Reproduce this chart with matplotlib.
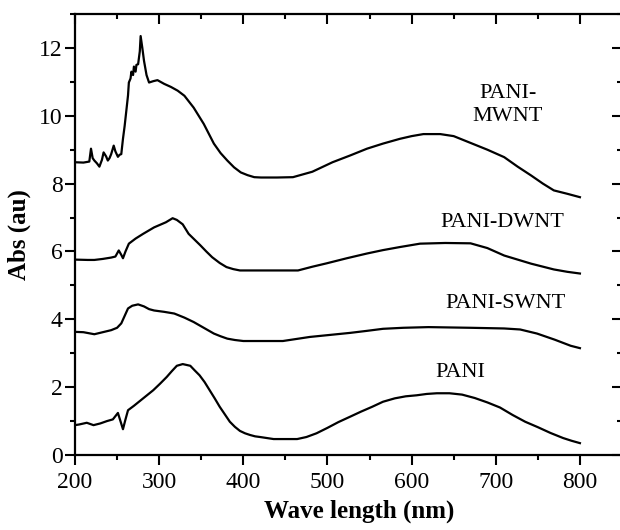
import matplotlib
matplotlib.use("Agg")
import matplotlib.pyplot as plt
from matplotlib.ticker import MultipleLocator, NullFormatter

plt.rcParams['font.family'] = ['Liberation Serif', 'DejaVu Serif']

# PANI
pani_x = [200, 205, 214, 222, 230, 238, 245, 251, 254, 257, 260, 263, 270, 277, 285, 293,
          301, 309, 315, 321, 328, 337, 342, 348, 354, 360, 366, 372, 378, 384, 390, 396,
          402, 408, 414, 420, 428, 436, 450, 464, 475, 487, 500, 513, 527, 540, 553, 566,
          580, 593, 606, 618, 630, 645, 660, 675, 690, 705, 720, 735, 750, 765, 780, 790, 800]
pani_y = [0.88, 0.9, 0.95, 0.88, 0.93, 1.0, 1.05, 1.24, 1.0, 0.76, 1.05, 1.32, 1.45, 1.59, 1.75, 1.91,
          2.1, 2.3, 2.47, 2.63, 2.68, 2.63, 2.5, 2.35, 2.15, 1.91, 1.67, 1.42, 1.2, 0.98, 0.83, 0.71,
          0.64, 0.59, 0.55, 0.53, 0.5, 0.47, 0.47, 0.47, 0.53, 0.64, 0.8, 0.97, 1.13, 1.28, 1.42, 1.57,
          1.67, 1.73, 1.76, 1.8, 1.82, 1.82, 1.78, 1.68, 1.55, 1.4, 1.18, 0.98, 0.82, 0.65, 0.5, 0.42, 0.35]

# PANI-SWNT
swnt_x = [200, 210, 223, 233, 243, 250, 255, 259, 263, 268, 275, 282, 288, 294, 306, 318, 330,
          341, 353, 365, 373, 381, 390, 400, 420, 447, 479, 503, 527, 547, 566, 590, 620, 645,
          670, 690, 710, 729, 749, 770, 789, 800]
swnt_y = [3.63, 3.62, 3.56, 3.62, 3.68, 3.75, 3.88, 4.1, 4.32, 4.4, 4.44, 4.38, 4.3, 4.26, 4.22, 4.17, 4.05,
          3.92, 3.75, 3.58, 3.5, 3.43, 3.39, 3.36, 3.36, 3.36, 3.48, 3.54, 3.6, 3.66, 3.72, 3.75, 3.77, 3.76,
          3.75, 3.74, 3.73, 3.7, 3.58, 3.4, 3.22, 3.15]

# PANI-DWNT
dwnt_x = [200, 215, 223, 233, 243, 248, 252, 255, 257, 260, 264, 272, 281, 294, 308, 316, 321,
          328, 335, 342, 349, 356, 363, 372, 380, 388, 396, 418, 440, 465, 482, 499, 523, 547,
          566, 586, 610, 640, 670, 690, 710, 742, 769, 785, 800]
dwnt_y = [5.76, 5.75, 5.75, 5.78, 5.82, 5.85, 6.03, 5.9, 5.8, 6.0, 6.23, 6.38, 6.52, 6.71, 6.86, 6.98, 6.93,
          6.8, 6.52, 6.35, 6.18, 6.0, 5.83, 5.66, 5.54, 5.48, 5.44, 5.44, 5.44, 5.44, 5.55, 5.65, 5.8, 5.94,
          6.04, 6.13, 6.23, 6.25, 6.24, 6.1, 5.88, 5.64, 5.47, 5.4, 5.35]

# PANI-MWNT
mwnt_x = [200, 210, 217, 219, 221, 223, 226, 229, 232, 234, 237, 239, 241, 243, 246, 248, 251,
          253, 255, 257, 259, 261, 263, 264, 266, 267, 269, 270, 272, 273, 275, 277, 278, 280,
          282, 285, 288, 293, 298, 306, 314, 322, 330, 341, 353, 365, 373, 381, 389, 397, 405,
          413, 421, 440, 459, 482, 506, 527, 547, 566, 586, 600, 614, 634, 650, 670, 690, 710,
          726, 742, 756, 769, 785, 800]
mwnt_y = [8.63, 8.62, 8.65, 9.03, 8.75, 8.68, 8.6, 8.5, 8.7, 8.92, 8.8, 8.68, 8.75, 8.87, 9.12, 8.95, 8.79,
          8.85, 8.87, 9.32, 9.7, 10.15, 10.6, 10.98, 11.1, 11.3, 11.2, 11.45, 11.3, 11.5, 11.52, 11.9, 12.35, 12.0,
          11.62, 11.2, 10.98, 11.02, 11.05, 10.94, 10.85, 10.74, 10.59, 10.24, 9.76, 9.18, 8.9, 8.68, 8.48, 8.33, 8.25,
          8.19, 8.18, 8.18, 8.19, 8.35, 8.63, 8.83, 9.03, 9.18, 9.32, 9.4, 9.46, 9.46, 9.4, 9.2, 9.0, 8.78,
          8.5, 8.24, 8.0, 7.8, 7.7, 7.6]

labels = ['PANI-\nMWNT', 'PANI-DWNT', 'PANI-SWNT', 'PANI']
label_x = [714, 708, 711, 658]
label_y = [10.32, 6.85, 4.47, 2.44]

fig = plt.figure(figsize=(6.2, 5.3), dpi=100)
ax = fig.add_axes([75 / 620, 75 / 530, 547 / 620, 441 / 530])

for xs, ys in [(pani_x, pani_y), (swnt_x, swnt_y), (dwnt_x, dwnt_y), (mwnt_x, mwnt_y)]:
    ax.plot(xs, ys, color='black', lw=1.6)

for t, x, y in zip(labels, label_x, label_y):
    ax.text(x, y, t, ha='center', va='center', fontsize=16, linespacing=1.25)

ax.set_xlim(200, 850)
ax.set_ylim(0, 13)
ax.xaxis.set_major_locator(MultipleLocator(100))
ax.xaxis.set_minor_locator(MultipleLocator(50))
ax.yaxis.set_major_locator(MultipleLocator(2))
ax.yaxis.set_minor_locator(MultipleLocator(1))

ax.spines['right'].set_visible(False)
ax.spines['top'].set_visible(False)
for s in ['left', 'bottom']:
    ax.spines[s].set_linewidth(1.6)

# bottom / left ticks point out
ax.tick_params(which='both', direction='out', width=1.5, labelsize=17)
ax.tick_params(which='major', length=7)
ax.tick_params(which='minor', length=3.5)
ax.tick_params(axis='x', which='major', pad=5)
ax.tick_params(axis='y', which='major', pad=2)

# top / right ticks point in
top = ax.secondary_xaxis('top')
top.xaxis.set_major_locator(MultipleLocator(100))
top.xaxis.set_minor_locator(MultipleLocator(50))
top.xaxis.set_major_formatter(NullFormatter())
top.spines['top'].set_linewidth(1.6)
top.tick_params(which='both', direction='in', width=1.5)
top.tick_params(which='major', length=7)
top.tick_params(which='minor', length=3.5)

right = ax.secondary_yaxis('right')
right.yaxis.set_major_locator(MultipleLocator(2))
right.yaxis.set_minor_locator(MultipleLocator(1))
right.yaxis.set_major_formatter(NullFormatter())
right.spines['right'].set_visible(False)
right.tick_params(which='both', direction='in', width=1.5)
right.tick_params(which='major', length=7)
right.tick_params(which='minor', length=3.5)

ax.set_xlabel('Wave length (nm)', fontsize=18, fontweight='bold')
ax.xaxis.set_label_coords(0.52, -0.102)
ax.set_ylabel('Abs (au)', fontsize=18, fontweight='bold', labelpad=6)

fig.savefig('out.png', dpi=100)
